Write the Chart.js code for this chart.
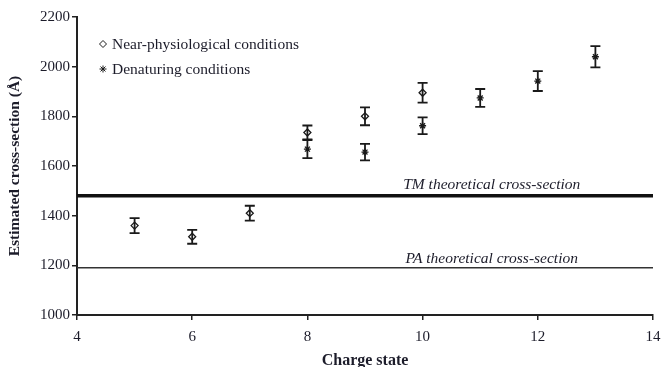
<!DOCTYPE html>
<html>
<head>
<meta charset="utf-8">
<script src="https://cdn.jsdelivr.net/npm/chart.js@4.4.1/dist/chart.umd.min.js"></script>
<style>
  html, body { margin: 0; padding: 0; background: #ffffff; }
  canvas { display: block; }
</style>
</head>
<body>
<canvas id="ccs" width="661" height="367"></canvas>
<script>
// Charge state axis
const xTicks = [4, 6, 8, 10, 12, 14];
const yTicks = [1000, 1200, 1400, 1600, 1800, 2000, 2200];

// Near-physiological conditions
const nearPhysCharge = [5, 6, 7, 8, 9, 10];
const nearPhysCCS    = [1360, 1315, 1410, 1735, 1800, 1895];
const nearPhysErr    = [30, 28, 30, 28, 36, 40];

// Denaturing conditions
const denatCharge = [8, 9, 10, 11, 12, 13];
const denatCCS    = [1668, 1656, 1762, 1874, 1942, 2040];
const denatErr    = [36, 33, 34, 36, 40, 43];

// Theoretical cross-sections
const tmCrossSection = 1480;
const paCrossSection = 1190;
const tmLabel = 'TM theoretical cross-section';
const paLabel = 'PA theoretical cross-section';

const legendLabels = ['Near-physiological conditions', 'Denaturing conditions'];

const INK = '#1c1c2a';
const SERIF = '"Liberation Serif", "DejaVu Serif", serif';

const toPoints = (xs, ys) => xs.map((x, i) => ({ x: x, y: ys[i] }));

// vertical error bars with caps, positioned through the chart scales
const errorBarPlugin = {
  id: 'errorBars',
  afterDatasetsDraw(chart) {
    const ctx = chart.ctx;
    const yScale = chart.scales.y;
    chart.data.datasets.forEach((ds, di) => {
      if (!ds.errors) return;
      const meta = chart.getDatasetMeta(di);
      ctx.save();
      ctx.strokeStyle = '#1a1a1a';
      ctx.lineWidth = 1.8;
      meta.data.forEach((el, i) => {
        const v = ds.data[i].y;
        const e = ds.errors[i];
        const top = yScale.getPixelForValue(v + e);
        const bot = yScale.getPixelForValue(v - e);
        const cap = 5;
        ctx.beginPath();
        ctx.moveTo(el.x, top); ctx.lineTo(el.x, bot);
        ctx.moveTo(el.x - cap, top); ctx.lineTo(el.x + cap, top);
        ctx.moveTo(el.x - cap, bot); ctx.lineTo(el.x + cap, bot);
        ctx.stroke();
      });
      ctx.restore();
    });
  }
};

// line captions and in-plot legend
const textPlugin = {
  id: 'plotText',
  afterDraw(chart) {
    const ctx = chart.ctx;
    const xs = chart.scales.x, ys = chart.scales.y;
    ctx.save();
    ctx.fillStyle = INK;
    ctx.font = 'italic 15.5px ' + SERIF;
    ctx.textAlign = 'center';
    ctx.textBaseline = 'middle';
    const cx = xs.getPixelForValue(11.2);
    ctx.fillText(tmLabel, cx, ys.getPixelForValue(tmCrossSection) - 11);
    ctx.fillText(paLabel, cx, ys.getPixelForValue(paCrossSection) - 9);

    // legend
    ctx.font = '15.5px ' + SERIF;
    ctx.textAlign = 'left';
    const lx = 103, ly = [44, 69];
    const styles = [
      { pointStyle: 'rectRot', radius: 3.5, borderWidth: 1.3 },
      { pointStyle: 'star', radius: 3.5, borderWidth: 1.3 }
    ];
    legendLabels.forEach((label, i) => {
      ctx.strokeStyle = '#1a1a1a';
      ctx.fillStyle = '#ffffff';
      Chart.helpers.drawPoint(ctx, styles[i], lx, ly[i]);
      ctx.fillStyle = INK;
      ctx.fillText(label, lx + 9, ly[i] + 1);
    });
    ctx.restore();
  }
};

const axisCommon = {
  type: 'linear',
  grid: {
    drawOnChartArea: false,
    drawTicks: true,
    tickLength: 5,
    color: '#222222',
    lineWidth: 1.5
  },
  border: { color: '#222222', width: 2 }
};

new Chart(document.getElementById('ccs'), {
  type: 'scatter',
  data: {
    datasets: [
      {
        label: legendLabels[0],
        data: toPoints(nearPhysCharge, nearPhysCCS),
        errors: nearPhysErr,
        pointStyle: 'rectRot',
        pointRadius: 3.5,
        pointBorderWidth: 1.3,
        pointBackgroundColor: '#ffffff',
        pointBorderColor: '#1a1a1a'
      },
      {
        label: legendLabels[1],
        data: toPoints(denatCharge, denatCCS),
        errors: denatErr,
        pointStyle: 'star',
        pointRadius: 3.5,
        pointBorderWidth: 1.3,
        pointBorderColor: '#1a1a1a'
      },
      {
        type: 'line',
        label: tmLabel,
        data: [{ x: xTicks[0], y: tmCrossSection }, { x: xTicks[xTicks.length - 1], y: tmCrossSection }],
        borderColor: '#111111',
        borderWidth: 3.5,
        pointRadius: 0
      },
      {
        type: 'line',
        label: paLabel,
        data: [{ x: xTicks[0], y: paCrossSection }, { x: xTicks[xTicks.length - 1], y: paCrossSection }],
        borderColor: '#333333',
        borderWidth: 1.6,
        pointRadius: 0
      }
    ]
  },
  options: {
    responsive: false,
    animation: false,
    devicePixelRatio: 1,
    layout: { padding: { top: 17, right: 8, left: 0, bottom: -2 } },
    plugins: { legend: { display: false }, tooltip: { enabled: false } },
    scales: {
      x: Object.assign({}, axisCommon, {
        min: xTicks[0],
        max: xTicks[xTicks.length - 1],
        afterBuildTicks: s => { s.ticks = xTicks.map(v => ({ value: v })); },
        afterFit: s => { s.height = 54; s.paddingLeft = 0; s.paddingRight = 0; },
        ticks: { padding: 8, color: INK, font: { family: SERIF, size: 15 }, callback: v => String(v), maxRotation: 0 },
        title: { display: true, text: 'Charge state', color: INK,
                 font: { family: SERIF, size: 16, weight: 'bold', lineHeight: 1 }, padding: { top: 0, bottom: 0 } }
      }),
      y: Object.assign({}, axisCommon, {
        min: yTicks[0],
        max: yTicks[yTicks.length - 1],
        afterBuildTicks: s => { s.ticks = yTicks.map(v => ({ value: v })); },
        afterFit: s => { s.width = 77; s.paddingTop = 0; s.paddingBottom = 0; },
        ticks: { padding: 2, color: INK, font: { family: SERIF, size: 15 }, callback: v => String(v) },
        title: { display: true, text: 'Estimated cross-section (Å)', color: INK,
                 font: { family: SERIF, size: 15.5, weight: 'bold', lineHeight: 1 }, padding: { top: 7, bottom: 0 } }
      })
    }
  },
  plugins: [errorBarPlugin, textPlugin]
});
</script>
</body>
</html>
